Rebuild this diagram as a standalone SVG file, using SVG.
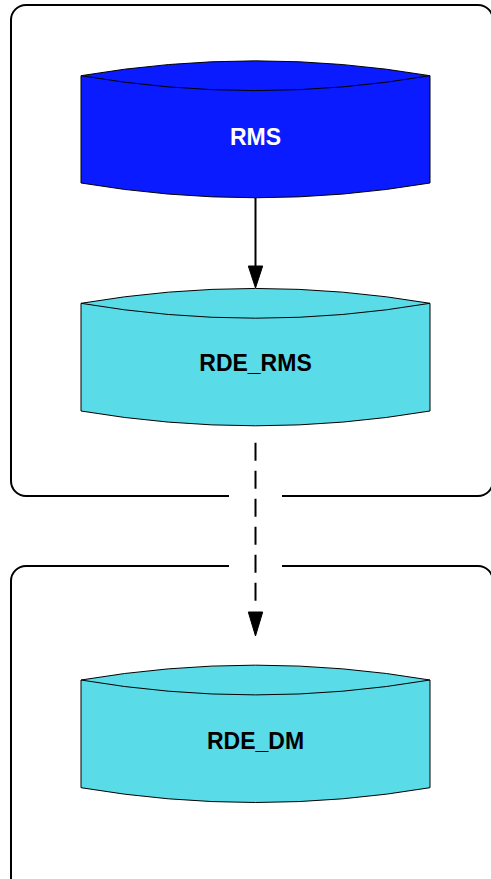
<svg xmlns="http://www.w3.org/2000/svg" width="491" height="879" viewBox="0 0 491 879">
<style>
.cluster{fill:none;stroke:#000;stroke-width:2}
.cyl{stroke:#000;stroke-width:1}
.lbl{font-family:"Liberation Sans",Arial,sans-serif;font-weight:bold;font-size:23px;text-anchor:middle;dominant-baseline:central}
.edge{stroke:#000;stroke-width:2;fill:none}
</style>
<rect width="491" height="879" fill="#fff"/>
<g id="cluster1">
<rect class="cluster" x="11" y="5" width="482" height="491" rx="15"/>
<rect x="229" y="490" width="53" height="12" fill="#fff"/>
</g>
<g id="cluster2">
<rect class="cluster" x="11" y="566" width="482" height="340" rx="15"/>
<rect x="229" y="560" width="53" height="12" fill="#fff"/>
</g>
<g id="RMS">
<path class="cyl" fill="#0a1cff" d="M81,75.7 Q255.5,46 430,75.7 L430,183 Q255.5,212.5 81,183 Z"/>
<path class="cyl" fill="none" d="M81,75.7 Q255.5,105.5 430,75.7"/>
<text class="lbl" x="255.5" y="137" fill="#fff">RMS</text>
</g>
<g id="RDE_RMS">
<path class="cyl" fill="#5adbe8" d="M81,303.3 Q255.5,273.6 430,303.3 L430,411 Q255.5,440.6 81,411 Z"/>
<path class="cyl" fill="none" d="M81,303.3 Q255.5,333.1 430,303.3"/>
<text class="lbl" x="255.5" y="363" fill="#000">RDE_RMS</text>
</g>
<g id="RDE_DM">
<path class="cyl" fill="#5adbe8" d="M81,680 Q255.5,650.3 430,680 L430,787.7 Q255.5,817.3 81,787.7 Z"/>
<path class="cyl" fill="none" d="M81,680 Q255.5,709.8 430,680"/>
<text class="lbl" x="255.5" y="741" fill="#000">RDE_DM</text>
</g>
<g id="connectors">
<line class="edge" x1="255.5" y1="198" x2="255.5" y2="267"/>
<polygon points="248.3,266 262.7,266 255.5,288" fill="#000" stroke="#000" stroke-width="1"/>
<line class="edge" x1="255.5" y1="442.7" x2="255.5" y2="601" stroke-dasharray="18,10"/>
<polygon points="248.3,612 262.7,612 255.5,636" fill="#000" stroke="#000" stroke-width="1"/>
</g>
</svg>
